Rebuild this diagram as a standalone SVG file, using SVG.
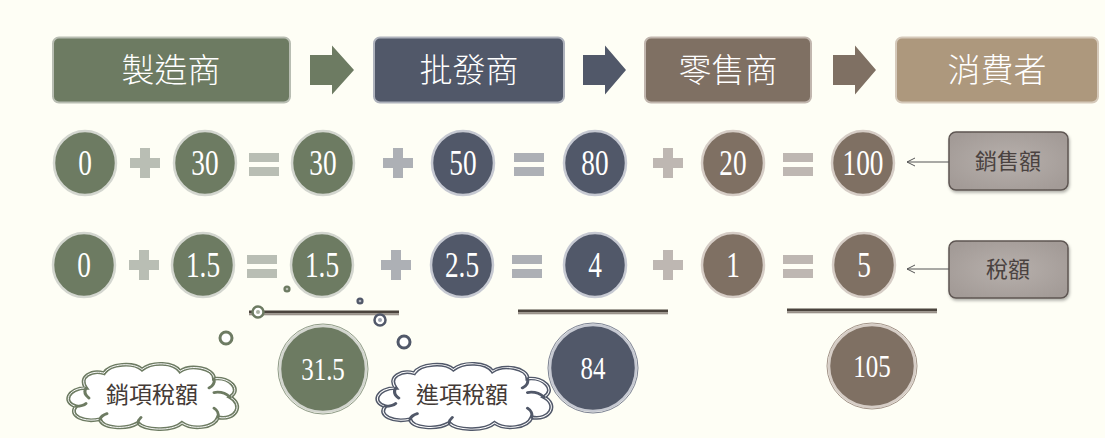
<svg xmlns="http://www.w3.org/2000/svg" width="1105" height="438" viewBox="0 0 1105 438">
<defs>
<style>
.hdr{font-family:"Noto Sans CJK TC","Noto Sans CJK SC",sans-serif;font-weight:300;font-size:33px;fill:#ffffff;text-anchor:middle}
.num{font-family:"Liberation Serif",serif;font-size:35px;fill:#ffffff;text-anchor:middle}
.numb{font-family:"Liberation Serif",serif;font-size:32px;fill:#ffffff;text-anchor:middle}
.lbl{font-family:"Noto Sans CJK TC","Noto Sans CJK SC",sans-serif;font-size:22px;fill:#4a4240;text-anchor:middle}
.cl{font-family:"Noto Sans CJK TC","Noto Sans CJK SC",sans-serif;font-size:23px;fill:#433a36;text-anchor:middle}
.g{fill:#6D7B62}
.b{fill:#515869}
.r{fill:#7F7063}
.cg{fill:#6D7B62;stroke:#D3D6CF;stroke-width:2.5}
.cb{fill:#515869;stroke:#C6C9D2;stroke-width:2.5}
.cr{fill:#7F7063;stroke:#D6CDC6;stroke-width:2.5}
.og{fill:none;stroke:#8E9A86;stroke-width:1}
.ob{fill:none;stroke:#7B8192;stroke-width:1}
.or{fill:none;stroke:#A39489;stroke-width:1}
.curl{fill:none;stroke-linecap:round}
</style>
<radialGradient id="lg" cx="0.5" cy="0.5" r="0.6">
<stop offset="0" stop-color="#B7B0AC"/>
<stop offset="1" stop-color="#A39B97"/>
</radialGradient>
<filter id="sh" x="-10%" y="-10%" width="130%" height="140%">
<feDropShadow dx="1" dy="2" stdDeviation="1.5" flood-color="#000" flood-opacity="0.3"/>
</filter>
<marker id="ah" viewBox="0 0 10 10" refX="9" refY="5" markerWidth="10" markerHeight="10" markerUnits="userSpaceOnUse" orient="auto">
<path d="M1,1 L9,5 L1,9" fill="none" stroke="#555" stroke-width="1"/>
</marker>
<path id="cloud" d="M22 26 C14 14 28 6 40 10 C46 -1 70 -2 78 6 C88 -3 110 -2 116 8 C126 0 150 4 150 16 C166 14 178 28 166 36 C180 44 172 62 154 58 C150 70 128 72 118 64 C108 74 80 72 74 64 C62 72 38 70 36 60 C20 64 4 56 12 46 C-2 42 4 26 22 26 Z"/>
<path id="curls" d="M22 26 C20 30 21 34 25 37 M150 16 C151 20 149 24 145 26 M166 36 C162 32 156 30 150 31 M154 58 C155 54 153 50 150 48 M74 64 C74 62 75 60 77 58 M36 60 C37 57 40 55 43 54 M12 46 C16 46 20 45 22 43"/>
</defs>
<rect width="1105" height="438" fill="#FEFEF5"/>

<g id="header-manufacturer">
<rect x="53" y="37.5" width="237" height="65" rx="6" fill="#6D7B62" stroke="#B8BDB2" stroke-width="2"/>
<text class="hdr" x="171" y="82">製造商</text>
</g>
<g id="header-wholesaler">
<rect x="374" y="37.5" width="190" height="65" rx="6" fill="#515869" stroke="#AEB2BC" stroke-width="2"/>
<text class="hdr" x="469" y="82">批發商</text>
</g>
<g id="header-retailer">
<rect x="645" y="37.5" width="166" height="65" rx="6" fill="#7F7063" stroke="#C1B6AE" stroke-width="2"/>
<text class="hdr" x="728" y="82">零售商</text>
</g>
<g id="header-consumer">
<rect x="896" y="37.5" width="202" height="65" rx="6" fill="#AD987D" stroke="#D5C9BA" stroke-width="2"/>
<text class="hdr" x="997" y="82">消費者</text>
</g>

<g id="flow-arrows">
<path class="g" d="M310 55 H332 V45.5 L354 70 L332 94.5 V85 H310 Z"/>
<path class="b" d="M583 55 H605 V45.5 L626 70 L605 94.5 V85 H583 Z"/>
<path class="r" d="M833 55 H855 V45.5 L876 70 L855 94.5 V85 H833 Z"/>
</g>

<g id="row-sales">
<ellipse class="cg" cx="85" cy="163" rx="31" ry="32"/><text class="num" transform="translate(85,175) scale(0.78,1)">0</text>
<path fill="#B9BEB4" d="M140 148 H150 V158 H160 V168 H150 V178 H140 V168 H130 V158 H140 Z"/>
<ellipse class="cg" cx="205" cy="163" rx="31" ry="32"/><text class="num" transform="translate(205,175) scale(0.78,1)">30</text>
<rect x="249" y="153" width="30" height="9" fill="#B9BEB4"/><rect x="249" y="167" width="30" height="9" fill="#B9BEB4"/>
<ellipse class="cg" cx="323" cy="163" rx="31" ry="32"/><text class="num" transform="translate(323,175) scale(0.78,1)">30</text>
<path fill="#ADB0B5" d="M393 148 H403 V158 H413 V168 H403 V178 H393 V168 H383 V158 H393 Z"/>
<ellipse class="cb" cx="463" cy="163" rx="31" ry="32"/><text class="num" transform="translate(463,175) scale(0.78,1)">50</text>
<rect x="514" y="153" width="30" height="9" fill="#ADB0B5"/><rect x="514" y="167" width="30" height="9" fill="#ADB0B5"/>
<ellipse class="cb" cx="595" cy="163" rx="31" ry="32"/><text class="num" transform="translate(595,175) scale(0.78,1)">80</text>
<path fill="#BEB7B2" d="M663 148 H673 V158 H683 V168 H673 V178 H663 V168 H653 V158 H663 Z"/>
<ellipse class="cr" cx="733" cy="163" rx="31" ry="32"/><text class="num" transform="translate(733,175) scale(0.78,1)">20</text>
<rect x="783" y="153" width="30" height="9" fill="#BEB7B2"/><rect x="783" y="167" width="30" height="9" fill="#BEB7B2"/>
<ellipse class="cr" cx="863" cy="163" rx="31" ry="32"/><text class="num" transform="translate(863,175) scale(0.78,1)">100</text>
</g>

<g id="row-tax">
<ellipse class="cg" cx="84" cy="265" rx="31" ry="32"/><text class="num" transform="translate(84,277) scale(0.78,1)">0</text>
<path fill="#B9BEB4" d="M139 250 H149 V260 H159 V270 H149 V280 H139 V270 H129 V260 H139 Z"/>
<ellipse class="cg" cx="203" cy="265" rx="31" ry="32"/><text class="num" transform="translate(203,277) scale(0.78,1)">1.5</text>
<rect x="247" y="255" width="30" height="9" fill="#B9BEB4"/><rect x="247" y="269" width="30" height="9" fill="#B9BEB4"/>
<ellipse class="cg" cx="322" cy="265" rx="31" ry="32"/><text class="num" transform="translate(322,277) scale(0.78,1)">1.5</text>
<path fill="#ADB0B5" d="M391 250 H401 V260 H411 V270 H401 V280 H391 V270 H381 V260 H391 Z"/>
<ellipse class="cb" cx="462" cy="265" rx="31" ry="32"/><text class="num" transform="translate(462,277) scale(0.78,1)">2.5</text>
<rect x="512" y="255" width="30" height="9" fill="#ADB0B5"/><rect x="512" y="269" width="30" height="9" fill="#ADB0B5"/>
<ellipse class="cb" cx="595" cy="265" rx="31" ry="32"/><text class="num" transform="translate(595,277) scale(0.78,1)">4</text>
<path fill="#BEB7B2" d="M663 250 H673 V260 H683 V270 H673 V280 H663 V270 H653 V260 H663 Z"/>
<ellipse class="cr" cx="733" cy="265" rx="31" ry="32"/><text class="num" transform="translate(733,277) scale(0.78,1)">1</text>
<rect x="783" y="255" width="30" height="9" fill="#BEB7B2"/><rect x="783" y="269" width="30" height="9" fill="#BEB7B2"/>
<ellipse class="cr" cx="864" cy="265" rx="31" ry="32"/><text class="num" transform="translate(864,277) scale(0.78,1)">5</text>
</g>

<g id="sum-lines">
<rect x="249" y="310.5" width="150" height="3" fill="#4B443D"/><rect x="249" y="313.5" width="150" height="1.8" fill="#9A928A"/>
<rect x="518" y="309.5" width="150" height="3" fill="#4B443D"/><rect x="518" y="312.5" width="150" height="1.8" fill="#9A928A"/>
<rect x="787" y="308.5" width="150" height="3" fill="#4B443D"/><rect x="787" y="311.5" width="150" height="1.8" fill="#9A928A"/>
</g>

<g id="bubbles">
<circle cx="258" cy="312" r="5.5" fill="#fff" stroke="#6D7B62" stroke-width="2.5"/><circle cx="258" cy="312" r="2" fill="#A9B0A2"/>
<circle cx="287" cy="289" r="3.6" fill="#6D7B62"/><circle cx="287" cy="289" r="1.3" fill="#B9BEB4"/>
<circle cx="360" cy="301" r="3.6" fill="#515869"/><circle cx="360" cy="301" r="1.3" fill="#B0B4BE"/>
<circle cx="380" cy="320" r="5.5" fill="#fff" stroke="#515869" stroke-width="2.5"/><circle cx="380" cy="320" r="2" fill="#9EA3AF"/>
<circle cx="226" cy="338" r="6" fill="#fff" stroke="#6D7B62" stroke-width="3"/>
<circle cx="404" cy="342" r="6" fill="#fff" stroke="#515869" stroke-width="3"/>
</g>

<g id="total-output">
<ellipse class="cg" cx="323" cy="369" rx="43" ry="43"/><ellipse class="og" cx="323" cy="369" rx="45" ry="45"/>
<text class="numb" transform="translate(323,380) scale(0.78,1)">31.5</text>
</g>
<g id="total-input">
<ellipse class="cb" cx="593" cy="368" rx="43" ry="43"/><ellipse class="ob" cx="593" cy="368" rx="45" ry="45"/>
<text class="numb" transform="translate(593,379) scale(0.78,1)">84</text>
</g>
<g id="total-sales">
<ellipse class="cr" cx="872" cy="366" rx="43" ry="41"/><ellipse class="or" cx="872" cy="366" rx="45" ry="43"/>
<text class="numb" transform="translate(872,377) scale(0.78,1)">105</text>
</g>

<g id="cloud-output">
<g transform="translate(64,364) scale(1.0,0.92)">
<use href="#cloud" fill="#ffffff" stroke="#6D7B62" stroke-width="4"/>
<use href="#cloud" fill="none" stroke="#ffffff" stroke-width="1"/>
<use href="#curls" class="curl" stroke="#6D7B62" stroke-width="3"/>
</g>
<text class="cl" x="152" y="403">銷項稅額</text>
</g>
<g id="cloud-input">
<g transform="translate(373,364) scale(1.03,0.92)">
<use href="#cloud" fill="#ffffff" stroke="#515869" stroke-width="4"/>
<use href="#cloud" fill="none" stroke="#ffffff" stroke-width="1"/>
<use href="#curls" class="curl" stroke="#515869" stroke-width="3"/>
</g>
<text class="cl" x="462" y="403">進項稅額</text>
</g>

<g id="label-sales">
<rect x="949" y="132" width="119" height="58" rx="7" fill="url(#lg)" stroke="#5E5652" stroke-width="1.5" filter="url(#sh)"/>
<text class="lbl" x="1008" y="169">銷售額</text>
</g>
<g id="label-tax">
<rect x="949" y="241" width="119" height="57" rx="7" fill="url(#lg)" stroke="#5E5652" stroke-width="1.5" filter="url(#sh)"/>
<text class="lbl" x="1008" y="277">稅額</text>
</g>

<g id="connectors">
<line x1="949" y1="162" x2="907" y2="162" stroke="#555" stroke-width="1" marker-end="url(#ah)"/>
<line x1="949" y1="269" x2="907" y2="269" stroke="#555" stroke-width="1" marker-end="url(#ah)"/>
</g>
</svg>
